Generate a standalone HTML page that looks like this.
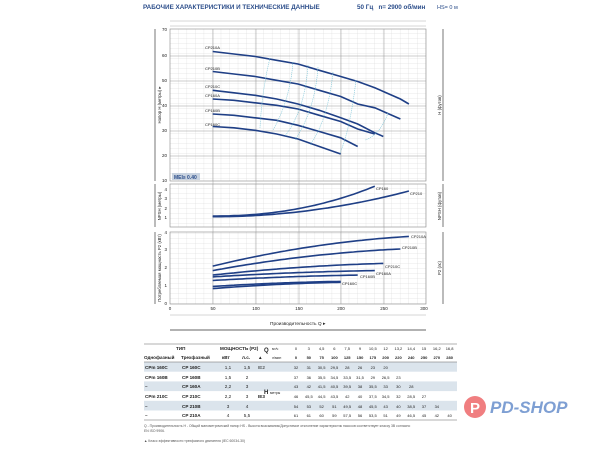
<!DOCTYPE html>
<html><head><meta charset="utf-8">
<style>
body{margin:0;background:#fff;width:600px;height:449px;overflow:hidden;font-family:"Liberation Sans",sans-serif}
svg{position:absolute;left:0;top:0}
</style></head><body>
<svg id="s" width="600" height="449" viewBox="0 0 600 449" font-family="Liberation Sans, sans-serif">
<defs>
<pattern id="g" x="170" y="29" width="8.533" height="5" patternUnits="userSpaceOnUse">
<path d="M8.533 0V5M0 5H8.533" stroke="#c8c8c8" stroke-width="0.4" fill="none"/>
</pattern>
</defs>
<text x="143" y="9" font-size="6.3" font-weight="bold" fill="#2b4d8a">РАБОЧИЕ ХАРАКТЕРИСТИКИ И ТЕХНИЧЕСКИЕ ДАННЫЕ</text>
<text x="357" y="9" font-size="6.3" font-weight="bold" fill="#2b4d8a">50 Гц&#160;&#160;&#160;n= 2900 об/мин</text>
<text x="437" y="9" font-size="5.5" fill="#2b4d8a">HS= 0 м</text>
<line x1="170" y1="21" x2="426" y2="21" stroke="#999" stroke-width="0.4"/>
<line x1="170" y1="26" x2="426" y2="26" stroke="#999" stroke-width="0.4"/>
<rect x="170" y="29" width="256" height="152" fill="url(#g)" stroke="#888" stroke-width="0.6"/>
<rect x="170" y="184" width="256" height="43" fill="url(#g)" stroke="#888" stroke-width="0.6"/>
<rect x="170" y="232" width="256" height="72" fill="url(#g)" stroke="#888" stroke-width="0.6"/>
<g stroke="#999" stroke-width="0.5">
<line x1="170" y1="56" x2="426" y2="56"/><line x1="170" y1="81" x2="426" y2="81"/><line x1="170" y1="106" x2="426" y2="106"/><line x1="170" y1="131" x2="426" y2="131"/><line x1="170" y1="156" x2="426" y2="156"/>
<line x1="213" y1="29" x2="213" y2="304"/><line x1="256" y1="29" x2="256" y2="304"/><line x1="299" y1="29" x2="299" y2="304"/><line x1="341" y1="29" x2="341" y2="304"/><line x1="384" y1="29" x2="384" y2="304"/>
</g>
<g fill="#222" font-size="4.5" text-anchor="end">
<text x="167" y="31">70</text><text x="167" y="57">60</text><text x="167" y="82">50</text><text x="167" y="107">40</text><text x="167" y="132">30</text><text x="167" y="157">20</text><text x="167" y="182">10</text>
<text x="167" y="191">4</text><text x="167" y="200">3</text><text x="167" y="210">2</text><text x="167" y="219">1</text>
<text x="167" y="234">4</text><text x="167" y="251">3</text><text x="167" y="269">2</text><text x="167" y="287">1</text><text x="167" y="305">0</text>
</g>
<g fill="#222" font-size="4.5" text-anchor="middle">
<text x="170" y="310">0</text><text x="213" y="310">50</text><text x="256" y="310">100</text><text x="299" y="310">150</text><text x="341" y="310">200</text><text x="384" y="310">250</text><text x="424" y="310">300</text>
</g>
<line x1="170" y1="315" x2="426" y2="315" stroke="#999" stroke-width="0.4"/>
<text x="270" y="325" font-size="4.8" fill="#222">Производительность Q ▸</text>
<line x1="170" y1="330" x2="426" y2="330" stroke="#333" stroke-width="0.8"/>
<g stroke="#555" stroke-width="0.8"><line x1="155" y1="29" x2="155" y2="181"/><line x1="155" y1="184" x2="155" y2="227"/><line x1="155" y1="232" x2="155" y2="304"/>
<line x1="443" y1="29" x2="443" y2="181"/><line x1="443" y1="184" x2="443" y2="227"/><line x1="443" y1="232" x2="443" y2="304"/></g>
<g font-size="4.3" fill="#222">
<text transform="translate(161,105) rotate(-90)" text-anchor="middle">Напор H (метры) ▸</text>
<text transform="translate(161,206) rotate(-90)" text-anchor="middle">NPSH (метры)</text>
<text transform="translate(161,268) rotate(-90)" text-anchor="middle">Потребляемая мощность P2 (кВт)</text>
<text transform="translate(441,105) rotate(-90)" text-anchor="middle">H (футов)</text>
<text transform="translate(441,206) rotate(-90)" text-anchor="middle">NPSH (футов)</text>
<text transform="translate(441,268) rotate(-90)" text-anchor="middle">P2 (лс)</text>
</g>
<rect x="172" y="173" width="28" height="7" fill="#c9d3e0"/>
<text x="174" y="179" font-size="5" font-weight="bold" fill="#2b4d8a">MEI≥ 0.40</text>
<g font-size="4" fill="#222">
<text x="205" y="49">CP210A</text><text x="205" y="70">CP210B</text><text x="205" y="88">CP210C</text><text x="205" y="97">CP160A</text><text x="205" y="112">CP160B</text><text x="205" y="126">CP160C</text>
<text x="376" y="190">CP160</text><text x="410" y="195">CP210</text>
<text x="411" y="238">CP210A</text><text x="402" y="249">CP210B</text><text x="385" y="268">CP210C</text><text x="376" y="275">CP160A</text><text x="360" y="278">CP160B</text><text x="342" y="285">CP160C</text>
</g>
<g id="curves" fill="none" stroke="#1f3f86" stroke-width="1.6"></g>
<g id="iso" fill="none" stroke="#7fc6d8" stroke-width="0.6" stroke-dasharray="1.2,0.8">
<path d="M270 58 Q262 90 260 128"/><path d="M293 62 Q290 100 273 130"/><path d="M308 65 Q305 110 285 136"/><path d="M318 67 Q315 110 295 140"/><path d="M333 72 Q328 120 310 145"/><path d="M356 80 Q350 130 340 153"/><path d="M388 113 Q380 135 365 140"/>
</g>
<!-- table -->
<g font-size="4.6" fill="#222">
<rect x="144" y="362" width="313" height="9.7" fill="#dbe4ec"/>
<rect x="144" y="381.4" width="313" height="9.7" fill="#dbe4ec"/>
<rect x="144" y="400.8" width="313" height="9.7" fill="#dbe4ec"/>
<line x1="144" y1="344" x2="457" y2="344" stroke="#666" stroke-width="0.6"/>
<line x1="144" y1="362" x2="457" y2="362" stroke="#666" stroke-width="0.6"/>
<line x1="144" y1="420" x2="457" y2="420" stroke="#666" stroke-width="0.6"/>
<g font-weight="bold">
<text x="176" y="350">ТИП</text><text x="220" y="350">МОЩНОСТЬ (P2)</text>
<text x="144" y="359">Однофазный</text><text x="181" y="359">Трехфазный</text><text x="222" y="359">кВт</text><text x="242" y="359">л.с.</text><text x="258" y="359">▲</text>
<text x="264" y="352" font-size="6">Q</text><text x="264" y="394" font-size="6">H</text>
<text x="145" y="369">CPm 160C</text><text x="182" y="369">CP 160C</text>
<text x="145" y="379">CPm 160B</text><text x="182" y="379">CP 160B</text>
<text x="145" y="388">–</text><text x="182" y="388">CP 160A</text>
<text x="145" y="398">CPm 210C</text><text x="182" y="398">CP 210C</text>
<text x="145" y="408">–</text><text x="182" y="408">CP 210B</text>
<text x="145" y="417">–</text><text x="182" y="417">CP 210A</text>
</g>
<text x="272" y="350" font-size="3.5">м³/ч</text><text x="272" y="359" font-size="3.5">л/мин</text><text x="270" y="394" font-size="3.5">метры</text>
<text x="258" y="369">IE2</text><text x="258" y="398" font-weight="bold">IE3</text>
<g text-anchor="middle"><text x="228" y="369">1,1</text><text x="247" y="369">1,5</text><text x="228" y="379">1,5</text><text x="247" y="379">2</text><text x="228" y="388">2,2</text><text x="247" y="388">3</text><text x="228" y="398">2,2</text><text x="247" y="398">3</text><text x="228" y="408">3</text><text x="247" y="408">4</text><text x="228" y="417">4</text><text x="247" y="417">5,5</text></g>
<g id="tv" text-anchor="middle" font-size="4"></g>
</g>
<text x="144" y="427" font-size="3.4" fill="#555">Q - Производительность   H - Общий манометрический напор   HS - Высота всасывания/Допустимое отклонение характеристик насосов соответствует классу 3B согласно</text>
<text x="144" y="432" font-size="3.4" fill="#555">EN ISO 9906.</text>
<text x="144" y="442" font-size="3.4" fill="#555">▲ Класс эффективности трехфазного двигателя (IEC 60034-30)</text>
<circle cx="475" cy="407" r="11" fill="#f07e80"/>
<text x="470" y="413" font-size="15" font-weight="bold" fill="#fff">P</text>
<text x="490" y="413" font-size="17" font-weight="bold" font-style="italic" fill="#7e9fd3">PD-SHOP</text>
</svg>
<script>
var Q=[0,50,75,100,125,150,175,200,220,240,250,270,280];
var H={a:[61,61,60,59,57.5,56,53.5,51,49,46.5,45,42,40],b:[54,53,52,51,49.5,48,45.5,43,40,38.5,37,34],c:[46,45.5,44.5,43.5,42,40,37.5,34.5,32,28.5,27],d:[43,42,41.5,40.5,39.5,38,35.5,33,30,28],e:[37,36,35.5,34.5,33.5,31.5,29,26.5,23],f:[32,31,30.5,29.5,28,26,23,20]};
var x=q=>170+q*0.8533, g=document.getElementById('curves'),ns='http://www.w3.org/2000/svg';
function pl(pts){var p=document.createElementNS(ns,'polyline');p.setAttribute('points',pts.map(a=>a[0].toFixed(1)+','+a[1].toFixed(1)).join(' '));g.appendChild(p);}
for(var k in H){var arr=[];for(var i=1;i<H[k].length;i++)arr.push([x(Q[i]),29+(70-H[k][i])*2.5]);pl(arr);}
function fn(q0,q1,f){var a=[];for(var q=q0;q<=q1;q+=5)a.push([x(q),f(q)]);pl(a);}
fn(50,240,q=>227.5-9.6*(1.2+3.1*Math.pow((q-50)/190,2.2)));
fn(50,280,q=>227.5-9.6*(1.12+2.68*Math.pow((q-50)/230,2)));
var P=[[2.05,3.7,280],[1.8,3.0,270],[1.55,2.2,250],[1.45,1.8,240],[1.25,1.55,220],[0.92,1.2,200],[0.8,1.15,200]];
P.forEach(p=>fn(50,p[2],q=>{var t=(q-50)/(p[2]-50);return 303-18*(p[0]+(p[1]-p[0])*(1.6*t-0.6*t*t));}));
var tv=document.getElementById('tv');
var m3=['0','3','4,5','6','7,5','9','10,5','12','13,2','14,4','15','16,2','16,8'];
var rows=[m3,Q.map(String),H.f,H.e,H.d,H.c,H.b,H.a];
var ys=[350,359,369,379,388,398,408,417];
rows.forEach((r,j)=>r.forEach((v,i)=>{var t=document.createElementNS(ns,'text');t.setAttribute('x',296+i*12.8);t.setAttribute('y',ys[j]);if(j==1)t.setAttribute('font-weight','bold');t.textContent=String(v).replace('.',',');tv.appendChild(t);}));
</script>
</body></html>
